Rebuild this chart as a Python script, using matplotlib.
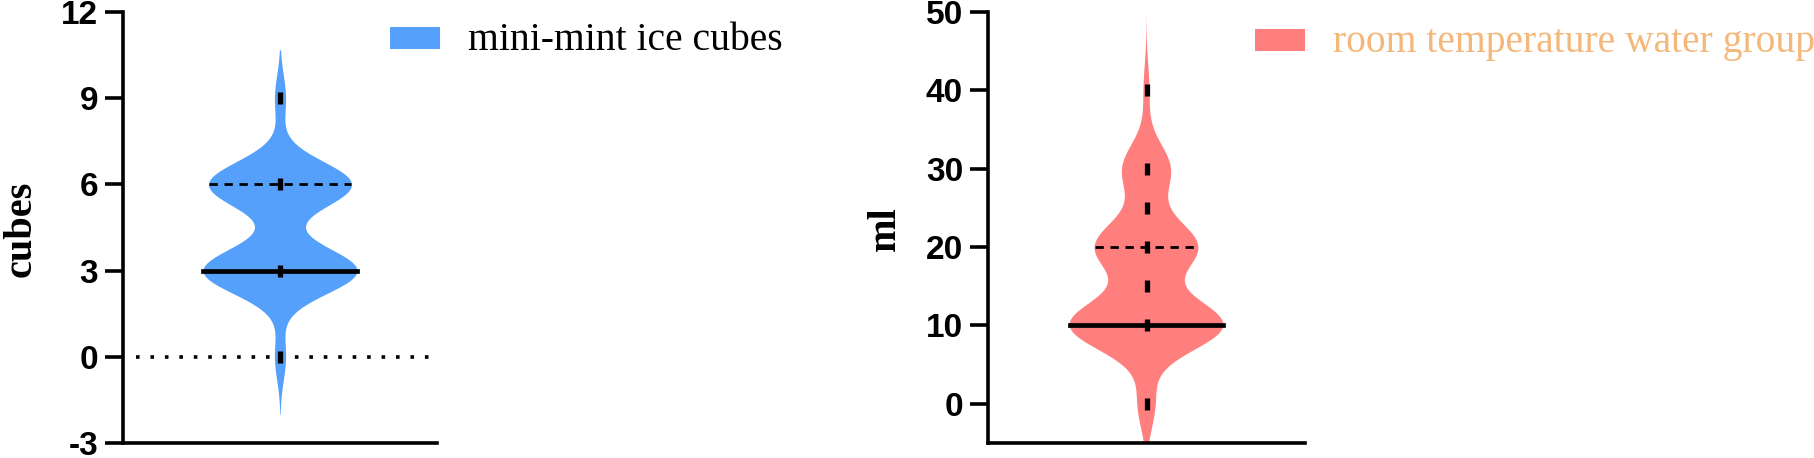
"""Two violin panels: mini-mint ice cubes (cubes) and room temperature water (ml)."""
import numpy as np
import matplotlib.pyplot as plt
from matplotlib.patches import Rectangle

plt.rcParams["axes.unicode_minus"] = False

# observed values and how many times each was recorded
cube_values = [0, 3, 6, 9]
cube_counts = [1, 14, 13, 1]
ml_values = [0, 10, 15, 20, 25, 30, 40]
ml_counts = [3, 26, 1, 17, 1, 8, 1]

cube_ticks = [-3, 0, 3, 6, 9, 12]
ml_ticks = [0, 10, 20, 30, 40, 50]

BLUE = "#55a0fb"
RED = "#ff7f7f"
ORANGE = "#f4b87c"

W, H = 1814, 458
fig = plt.figure(figsize=(W / 100, H / 100), dpi=100)


def violin(ax, values, counts, color, bw, cut_lo, cut_hi, half=0.5):
    data = np.repeat(values, counts).astype(float)
    y = np.linspace(min(values) - cut_lo * bw, max(values) + cut_hi * bw, 600)
    dens = np.zeros_like(y)
    for v, c in zip(values, counts):
        dens += c * np.exp(-(y - v) ** 2 / (2 * bw ** 2))
    w = dens / dens.max() * half
    ax.fill_betweenx(y, -w, w, color=color, lw=0, zorder=2)

    q1, q2, q3 = np.percentile(data, [25, 50, 75])
    for q, ls, lw in [(q1, (0, (3, 2.4)), 2), (q3, (0, (3, 2.4)), 2), (q2, "-", 3.4)]:
        hw = np.interp(q, y, w)
        ax.plot([-hw, hw], [q, q], color="black", ls=ls, lw=lw, zorder=3)

    ax.plot(np.zeros(len(values)), values, ls="none", marker="|",
            ms=9, mew=3.8, color="black", zorder=4)


def style(ax, ticks, ylim, label, label_x):
    ax.set_xlim(-1, 1)
    ax.set_ylim(*ylim)
    ax.set_yticks(ticks)
    ax.set_xticks([])
    for s in ["top", "right"]:
        ax.spines[s].set_visible(False)
    for s in ["left", "bottom"]:
        ax.spines[s].set_linewidth(2.6)
    ax.tick_params(axis="y", length=13, width=2.6, pad=5, labelsize=24)
    for t in ax.get_yticklabels():
        t.set_fontfamily("Liberation Sans")
        t.set_fontweight("bold")
    fig.text(label_x / W, 0.5, label, rotation=90, ha="center", va="center",
             family="Liberation Serif", weight="bold", fontsize=29)


def legend(x, y, text, color, tcolor):
    fig.add_artist(Rectangle((x / W, 1 - (y + 22) / H), 50 / W, 22 / H,
                             transform=fig.transFigure, color=color, lw=0))
    fig.text((x + 78) / W, 1 - (y + 23) / H, text, ha="left", va="baseline",
             family="Liberation Serif", fontsize=28.5, color=tcolor)


ax1 = fig.add_axes([123 / W, 15 / H, 314 / W, 431 / H])
violin(ax1, cube_values, cube_counts, BLUE, 0.8, 2.5, 2.1, half=0.49)
ax1.axhline(0, xmin=0.04, xmax=1.0, color="black", lw=2.6,
            ls=(0, (1, 3.0)), zorder=1)
style(ax1, cube_ticks, (-3, 12), "cubes", 21)
legend(390, 27, "mini-mint ice cubes", BLUE, "black")

ax2 = fig.add_axes([988 / W, 15 / H, 317 / W, 431 / H])
violin(ax2, ml_values, ml_counts, RED, 3.2, 3.5, 3.1, half=0.485)
style(ax2, ml_ticks, (-5, 50), "ml", 885)
legend(1255, 29, "room temperature water group", RED, ORANGE)

fig.savefig("out.png", dpi=100)
